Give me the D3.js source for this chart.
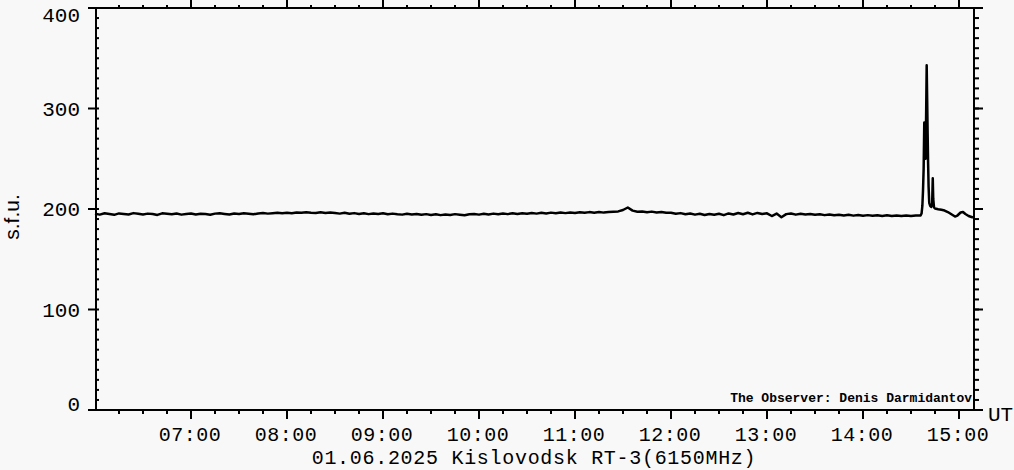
<!DOCTYPE html>
<html>
<head>
<meta charset="utf-8">
<script src="https://cdn.jsdelivr.net/npm/d3@7"></script>
<style>
  html, body { margin: 0; padding: 0; background: #f8f8f8; }
  svg { display: block; }
  text { fill: #000; }
</style>
</head>
<body>
<svg id="chart" width="1014" height="470"></svg>
<script>
// ---------- data ----------
const title = "01.06.2025 Kislovodsk RT-3(6150MHz)";
const yLabel = "s.f.u.";
const observer = "The Observer: Denis Darmidantov";
const unitLabel = "UT";
const startTime = "06:00";
const endMinutes = 548.75;               // 15:08:45, minutes after 06:00
const yTickValues = [0, 100, 200, 300, 400];
const xTickLabels = ["07:00","08:00","09:00","10:00","11:00","12:00","13:00","14:00","15:00"];
const xTickMinutes = [60, 120, 180, 240, 300, 360, 420, 480, 540];

// quiet-sun flux, one reading every 3 minutes from 06:00 (s.f.u.)
const sampleStep = 3;
const quietFlux = [
  195.2,194.4,195.8,195.0,194.2,195.6,195.1,194.6,195.9,195.3,
  194.5,195.4,195.0,194.1,195.7,195.2,194.7,195.5,194.4,195.1,
  195.6,194.6,195.3,195.0,194.3,195.4,195.8,195.1,194.5,195.5,
  195.0,195.7,195.3,194.7,195.6,196.0,195.4,195.8,196.2,195.7,
  196.3,195.8,196.6,196.2,196.8,196.2,196.1,196.7,196.1,196.5,
  196.0,195.4,196.2,195.2,195.9,195.1,195.8,194.9,195.6,195.0,
  195.7,194.7,195.4,194.8,194.4,195.3,194.6,195.1,194.2,194.9,
  194.1,194.8,193.9,194.6,194.0,194.9,194.3,193.8,194.7,195.0,
  194.4,195.2,194.6,195.4,194.8,195.5,194.9,195.7,195.1,195.8,
  195.2,196.0,195.4,196.2,195.6,196.4,195.8,196.5,195.9,196.6,
  196.1,196.8,196.2,196.9,196.3,197.0,196.4,196.9,197.2,197.6,
  199.0,201.5,198.4,197.3,197.6,196.7,197.4,196.6,197.1,196.3,
  196.2,195.2,195.9,194.8,195.6,194.4,195.3,194.0,195.1,194.3,
  195.3,193.9,195.6,194.5,196.0,194.8,196.3,194.6,196.1,195.0,
  195.7,193.0,195.4,191.8,194.9,195.6,194.4,195.2,194.6,195.0,
  194.2,194.8,193.9,194.6,193.7,194.3,193.6,194.2,193.4,194.0,
  193.3,193.9,193.2,193.8,193.1,193.7,193.0,193.6,193.1,193.5,
  193.0,193.5
];

// burst around 14:37 UT: minutes after 06:00 and flux (s.f.u.)
const burstMinutes = [516.0,516.6,517.1,517.5,517.9,518.3,518.7,519.1,519.5,519.8,520.1,520.4,520.7,521.0,521.4,522.0,522.6,523.2,523.6,523.9,524.4,525.0,527.0,529.0,531.0,533.0,535.0,537.5,539.0,541.0,542.5,544.0,546.0,548.75];
const burstFlux    = [193.6,195.5,203.0,218.0,240.0,286.0,262.0,250.0,300.0,343.0,310.0,275.0,245.0,222.0,206.0,203.0,202.0,204.0,230.5,210.0,201.5,200.5,199.8,199.2,198.5,197.0,195.0,192.5,193.5,196.5,197.0,195.0,193.0,191.5];

// ---------- drawing ----------
const svg = d3.select("#chart");
const W = 1014, H = 470;
const plotL = 95, plotR = 973, plotT = 8, plotB = 410;

svg.append("rect").attr("width", W).attr("height", H).attr("fill", "#f8f8f8");

const x = d3.scaleLinear().domain([0, endMinutes]).range([plotL, plotR]);
const y = d3.scaleLinear().domain([0, 400]).range([plotB, plotT]);

const pts = quietFlux.map((v, i) => [i * sampleStep, v])
  .concat(burstMinutes.map((m, i) => [m, burstFlux[i]]));

const monoFont = "'Liberation Mono', 'DejaVu Sans Mono', monospace";

function styleAxis(g) {
  g.select(".domain").remove();
  g.selectAll(".tick line").attr("stroke", "#000").attr("stroke-width", 2);
  g.selectAll("text").remove();
}
const minorX = d3.range(15, endMinutes, 15);
const minorY = d3.range(0, 401, 10);

// bottom axis
svg.append("g").attr("transform", `translate(0,${plotB})`)
  .call(d3.axisBottom(x).tickValues(minorX).tickSize(4).tickSizeOuter(0).offset(0)).call(styleAxis);
svg.append("g").attr("transform", `translate(0,${plotB})`)
  .call(d3.axisBottom(x).tickValues(xTickMinutes).tickSize(9).tickSizeOuter(0).offset(0)).call(styleAxis);
// top axis
svg.append("g").attr("transform", `translate(0,${plotT})`)
  .call(d3.axisTop(x).tickValues(minorX).tickSize(3).tickSizeOuter(0).offset(0)).call(styleAxis);
svg.append("g").attr("transform", `translate(0,${plotT})`)
  .call(d3.axisTop(x).tickValues(xTickMinutes).tickSize(8).tickSizeOuter(0).offset(0)).call(styleAxis);
// left axis
svg.append("g").attr("transform", `translate(${plotL + 1},0)`)
  .call(d3.axisLeft(y).tickValues(minorY).tickSize(-3).tickSizeOuter(0).offset(0)).call(styleAxis);
svg.append("g").attr("transform", `translate(${plotL + 1},0)`)
  .call(d3.axisLeft(y).tickValues(yTickValues).tickSize(8).tickSizeOuter(0).offset(0)).call(styleAxis);
// right axis
svg.append("g").attr("transform", `translate(${plotR + 1},0)`)
  .call(d3.axisRight(y).tickValues(minorY).tickSize(5).tickSizeOuter(0).offset(0)).call(styleAxis);
svg.append("g").attr("transform", `translate(${plotR + 1},0)`)
  .call(d3.axisRight(y).tickValues(yTickValues).tickSize(9).tickSizeOuter(0).offset(0)).call(styleAxis);

// frame
svg.append("rect")
  .attr("x", plotL + 1).attr("y", plotT)
  .attr("width", plotR - plotL).attr("height", plotB - plotT)
  .attr("fill", "none").attr("stroke", "#000").attr("stroke-width", 2);

// data line
svg.append("path")
  .datum(pts)
  .attr("fill", "none")
  .attr("stroke", "#000")
  .attr("stroke-width", 2.5)
  .attr("stroke-linejoin", "round")
  .attr("d", d3.line().x(d => x(d[0])).y(d => y(d[1])));

// y tick labels
const yLabelShift = v => v === 400 ? 14 : (v === 0 ? 1 : 7);
svg.append("g").selectAll("text").data(yTickValues).join("text")
  .attr("x", 80).attr("y", d => y(d) + yLabelShift(d))
  .attr("text-anchor", "end")
  .attr("font-family", monoFont).attr("font-size", 21)
  .text(d => d);

// x tick labels
svg.append("g").selectAll("text").data(xTickMinutes).join("text")
  .attr("x", d => x(d) - 1).attr("y", 441)
  .attr("text-anchor", "middle")
  .attr("font-family", monoFont).attr("font-size", 20)
  .attr("letter-spacing", 0.5)
  .text((d, i) => xTickLabels[i]);

// UT
svg.append("text").attr("x", 988).attr("y", 421)
  .attr("font-family", monoFont).attr("font-size", 21).text(unitLabel);

// title
svg.append("text").attr("x", 534).attr("y", 464)
  .attr("text-anchor", "middle")
  .attr("font-family", monoFont).attr("font-size", 20)
  .attr("letter-spacing", 0.7)
  .text(title);

// y axis label
svg.append("text")
  .attr("transform", "translate(19,217) rotate(-90)")
  .attr("text-anchor", "middle")
  .attr("font-family", "'Liberation Sans', Arial, sans-serif").attr("font-size", 21)
  .text(yLabel);

// observer
svg.append("text").attr("x", 972).attr("y", 402)
  .attr("text-anchor", "end")
  .attr("font-family", monoFont).attr("font-size", 13).attr("font-weight", "bold")
  .text(observer);
</script>
</body>
</html>
